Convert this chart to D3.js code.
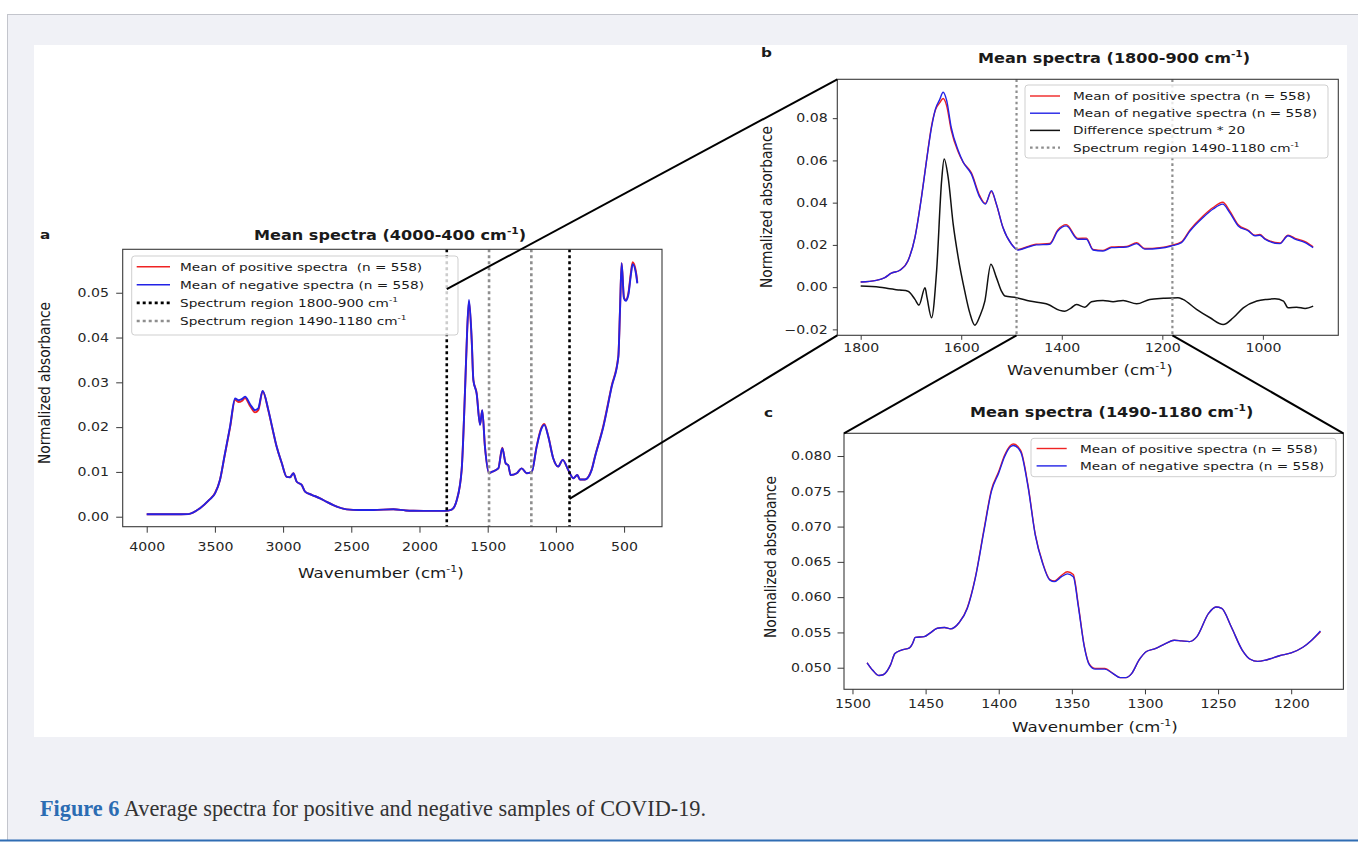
<!DOCTYPE html>
<html><head><meta charset="utf-8"><title>Figure 6</title>
<script src="https://cdn.jsdelivr.net/npm/d3@7/dist/d3.min.js"></script>
<style>html,body{margin:0;padding:0;background:#fff;overflow:hidden}svg{display:block}text{white-space:pre}</style>
</head><body><svg id="fig" width="1358" height="842"></svg>
<script>
// ================= DATA =================
// Panel a : 4000-400 cm-1
const waveA = [4000,3900,3800,3695,3609,3540,3499,3463,3430,3389,3352,3328,3300,3279,3240,3206,3182,3150,3108,3080,3047,3010,2974,2949,2925,2900,2864,2839,2790,2729,2680,2632,2534,2440,2339,2192,2100,2045,1900,1813,1764,1727,1691,1666,1650,1637,1617,1605,1581,1556,1540,1520,1490,1471,1422,1393,1368,1349,1332,1287,1251,1214,1177,1141,1108,1085,1056,1019,983,950,909,872,843,823,787,738,713,652,591,542,530,518,501,488,469,450,437,413,403];
const negA = [0.00054,0.00054,0.00054,0.00058,0.0019,0.0038,0.0052,0.0082,0.0135,0.0201,0.0264,0.0260,0.0263,0.0268,0.0250,0.0238,0.0242,0.0281,0.0238,0.0200,0.0156,0.0120,0.0089,0.0088,0.0097,0.0078,0.0071,0.0056,0.0049,0.0041,0.0033,0.0026,0.00165,0.0015,0.0015,0.00165,0.0014,0.00134,0.0013,0.0013,0.0016,0.0037,0.0104,0.0283,0.0420,0.0484,0.0394,0.0305,0.0275,0.0205,0.0238,0.0156,0.0097,0.0100,0.0108,0.0153,0.0119,0.0115,0.0093,0.0097,0.0108,0.0097,0.0100,0.0156,0.0195,0.0205,0.0179,0.0130,0.0112,0.0127,0.0104,0.0086,0.0093,0.0083,0.0083,0.0104,0.0134,0.0201,0.0290,0.0357,0.0460,0.0566,0.0488,0.0482,0.0495,0.0540,0.0564,0.0543,0.0521];
const posA = [0.00054,0.00054,0.00054,0.00058,0.0019,0.0038,0.0053,0.0082,0.0134,0.0199,0.0261,0.0256,0.0259,0.0265,0.0246,0.0233,0.0238,0.0280,0.0237,0.0199,0.0156,0.0120,0.0089,0.0088,0.0097,0.0078,0.0071,0.0056,0.0049,0.0041,0.0033,0.0026,0.00165,0.0015,0.0015,0.00165,0.0014,0.00134,0.0013,0.0013,0.0016,0.0037,0.0104,0.0283,0.0418,0.0480,0.0392,0.0305,0.0276,0.0206,0.0237,0.0156,0.0097,0.0100,0.0108,0.0154,0.0119,0.0115,0.0093,0.0097,0.0108,0.0097,0.0100,0.0157,0.0197,0.0207,0.0180,0.0130,0.0112,0.0127,0.0104,0.0086,0.0093,0.0083,0.0083,0.0105,0.0135,0.0203,0.0292,0.0359,0.0460,0.0566,0.0489,0.0484,0.0498,0.0545,0.0568,0.0547,0.0523];

// Panel b : 1800-900 cm-1
const waveB = [1800,1769,1752,1739,1722,1706,1692,1679,1669,1659,1651,1643,1636,1629,1620,1606,1596,1580,1563,1552,1540,1530,1517,1500,1487,1467,1451,1424,1408,1391,1368,1351,1338,1318,1301,1271,1251,1235,1205,1182,1162,1145,1119,1099,1080,1066,1049,1029,1016,1006,996,966,950,936,916,900];
const negB = [0.0024,0.0032,0.0045,0.0066,0.0080,0.0124,0.0235,0.0425,0.0599,0.0757,0.0845,0.0887,0.0923,0.0884,0.0757,0.0647,0.0591,0.0536,0.0425,0.0393,0.0457,0.0393,0.0282,0.0203,0.0176,0.0190,0.0200,0.0203,0.0266,0.0290,0.0227,0.0227,0.0176,0.0171,0.0187,0.0190,0.0206,0.0180,0.0184,0.0195,0.0211,0.0266,0.0330,0.0370,0.0393,0.0353,0.0290,0.0266,0.0243,0.0246,0.0227,0.0206,0.0243,0.0227,0.0211,0.0187];
const posB = [0.0024,0.0032,0.0045,0.0066,0.0080,0.0125,0.0237,0.0429,0.0601,0.0764,0.0841,0.0872,0.0893,0.0859,0.0744,0.0640,0.0591,0.0542,0.0432,0.0396,0.0452,0.0391,0.0282,0.0204,0.0178,0.0193,0.0203,0.0207,0.0271,0.0296,0.0231,0.0232,0.0179,0.0174,0.0190,0.0193,0.0210,0.0183,0.0187,0.0198,0.0214,0.0271,0.0337,0.0377,0.0402,0.0361,0.0295,0.0269,0.0246,0.0249,0.0230,0.0209,0.0246,0.0231,0.0216,0.0191];
const waveDiffB = [1800,1762,1742,1722,1706,1692,1684,1672,1668,1659,1649,1639,1634,1626,1616,1606,1593,1583,1573,1563,1553,1541,1530,1520,1513,1490,1464,1427,1404,1394,1381,1371,1354,1341,1318,1298,1278,1251,1225,1198,1169,1159,1132,1105,1079,1059,1039,1012,992,976,959,950,933,916,900];
const diffB = [0.0005,0.0000,-0.0008,-0.0014,-0.0019,-0.0058,-0.0085,-0.0003,-0.0050,-0.0145,0.0076,0.0504,0.0607,0.0520,0.0298,0.0140,-0.0019,-0.0122,-0.0180,-0.0137,-0.0066,0.0108,0.0045,-0.0019,-0.0042,-0.0050,-0.0066,-0.0082,-0.0110,-0.0114,-0.0098,-0.0082,-0.0095,-0.0069,-0.0063,-0.0069,-0.0063,-0.0079,-0.0058,-0.0053,-0.0050,-0.0058,-0.0105,-0.0145,-0.0177,-0.0145,-0.0098,-0.0066,-0.0058,-0.0055,-0.0066,-0.0098,-0.0095,-0.0101,-0.0090];

// Panel c : 1490-1180 cm-1
const waveC = [1490,1486,1482,1479,1474,1471,1466.5,1461,1459,1457,1451,1447,1442,1437,1433,1427,1421.5,1416,1410,1405,1400,1396,1392,1390,1385,1380,1375,1370,1365,1362,1357,1353,1349,1345.5,1341.5,1338,1334,1327.5,1322,1317,1313,1309,1304,1299,1293,1286,1280,1275,1269.5,1264.5,1256.5,1251.5,1247.5,1241,1233.5,1228,1223,1217,1208,1200,1192,1186,1180];
const negC = [0.0507,0.0496,0.0489,0.0490,0.0504,0.0520,0.0525,0.0528,0.0534,0.0543,0.0544,0.0549,0.0556,0.0557,0.0555,0.0564,0.0584,0.0627,0.0695,0.0750,0.0776,0.0799,0.0813,0.0815,0.0806,0.0757,0.0688,0.0648,0.0624,0.0622,0.0629,0.0633,0.0629,0.0586,0.0530,0.0504,0.0498,0.0498,0.0492,0.0486,0.0486,0.0492,0.0511,0.0523,0.0527,0.0534,0.0539,0.0538,0.0537,0.0544,0.0577,0.0586,0.0584,0.0558,0.0525,0.0512,0.0509,0.0511,0.0517,0.0521,0.0529,0.0539,0.0552];
const posC = [0.0507,0.0496,0.0489,0.0490,0.0504,0.0520,0.0525,0.0528,0.0534,0.0543,0.0544,0.0549,0.0556,0.0557,0.0555,0.0564,0.0585,0.0628,0.0697,0.0752,0.0778,0.0801,0.0815,0.0817,0.0808,0.0759,0.0689,0.0649,0.0625,0.0623,0.0631,0.0636,0.0632,0.0588,0.0531,0.0505,0.0499,0.0499,0.0492,0.0486,0.0486,0.0492,0.0511,0.0523,0.0527,0.0534,0.0539,0.0538,0.0537,0.0544,0.0577,0.0586,0.0584,0.0558,0.0525,0.0512,0.0509,0.0511,0.0517,0.0521,0.0529,0.0539,0.0551];

// Ticks
const ticksAx = [4000,3500,3000,2500,2000,1500,1000,500];
const ticksAy = [0.00,0.01,0.02,0.03,0.04,0.05];
const ticksBx = [1800,1600,1400,1200,1000];
const ticksBy = [-0.02,0.00,0.02,0.04,0.06,0.08];
const ticksCx = [1500,1450,1400,1350,1300,1250,1200];
const ticksCy = [0.050,0.055,0.060,0.065,0.070,0.075,0.080];

// Region markers (cm-1)
const regionOuter = [1800, 900];
const regionInner = [1490, 1180];
// Where the zoom connectors leave panel a (absorbance on the 1800 / 900 lines)
const connectA = [0.0508, 0.0040];

// Texts
const titleA = ["Mean spectra (4000-400 cm", ["-1"], ")"];
const titleB = ["Mean spectra (1800-900 cm", ["-1"], ")"];
const titleC = ["Mean spectra (1490-1180 cm", ["-1"], ")"];
const xLabel = ["Wavenumber (cm", ["-1"], ")"];
const yLabel = ["Normalized absorbance"];
const legendA = [["Mean of positive spectra  (n = 558)"], ["Mean of negative spectra (n = 558)"], ["Spectrum region 1800-900 cm", ["-1"]], ["Spectrum region 1490-1180 cm", ["-1"]]];
const legendB = [["Mean of positive spectra (n = 558)"], ["Mean of negative spectra (n = 558)"], ["Difference spectrum * 20"], ["Spectrum region 1490-1180 cm", ["-1"]]];
const legendC = [["Mean of positive spectra (n = 558)"], ["Mean of negative spectra (n = 558)"]];
const captionBold = "Figure 6";
const captionText = " Average spectra for positive and negative samples of COVID-19.";

// ================= STYLE / LAYOUT =================
const SX = 1.22;              // lettering in the source figure is stretched horizontally
const RED = "#ef2323", BLUE = "#2222e6", DARK = "#3a3a3a", GREY = "#8e8e8e";
const FONT = "DejaVu Sans";
const svg = d3.select("#fig");

// page chrome
svg.append("rect").attr("x",0).attr("y",0).attr("width",1358).attr("height",842).attr("fill","#fff");
svg.append("rect").attr("x",7.5).attr("y",14.5).attr("width",1360).attr("height",826).attr("fill","#f0f1f6").attr("stroke","#c3c5cc").attr("stroke-width",1);
svg.append("line").attr("x1",0).attr("x2",1358).attr("y1",840.5).attr("y2",840.5).attr("stroke","#2f6db3").attr("stroke-width",2);
svg.append("rect").attr("x",34).attr("y",45).attr("width",1313).attr("height",692).attr("fill","#fff");

function rich(parent, x, y, parts, o) {
  const size = o.size;
  let tr = `translate(${x},${y}) scale(${o.sx ?? SX},1)`;
  if (o.rotate) tr += " rotate(-90)";
  const t = parent.append("text").attr("transform", tr)
    .attr("text-anchor", o.anchor || "start").attr("font-family", o.family || FONT)
    .attr("font-size", size).attr("font-weight", o.weight || "normal").attr("fill", o.fill || "#1a1a1a");
  let shifted = false;
  const up = size * 0.42;
  parts.forEach(p => {
    if (Array.isArray(p)) {
      t.append("tspan").attr("dy", -up).attr("font-size", size * 0.66).text(p[0]);
      shifted = true;
    } else {
      const ts = t.append("tspan").text(p);
      if (shifted) { ts.attr("dy", up); shifted = false; }
    }
  });
  return t;
}

function panel(c) {
  const g = svg.append("g");
  const x = d3.scaleLinear().domain(c.xDomain).range([c.left, c.right]);
  const y = d3.scaleLinear().domain(c.yDomain).range([c.bottom, c.top]);
  return Object.assign({g, x, y}, c);
}

function axes(p, xt, yt, yfmt, o) {
  const gx = p.g.append("g").attr("transform", `translate(0,${p.bottom})`)
    .call(d3.axisBottom(p.x).tickValues(xt).tickFormat(d3.format("d")).tickSize(o.tx).tickPadding(o.px));
  const gy = p.g.append("g").attr("transform", `translate(${p.left},0)`)
    .call(d3.axisLeft(p.y).tickValues(yt).tickFormat(yfmt).tickSize(o.ty).tickPadding(o.py));
  [gx, gy].forEach(a => {
    a.select(".domain").remove();
    a.selectAll("line").attr("stroke", DARK).attr("stroke-width", 1);
    a.selectAll("text").attr("font-family", FONT).attr("font-size", 11.6).attr("fill", "#262626")
      .attr("transform", `scale(${SX},1)`);
  });
  gy.selectAll("text").attr("x", -(o.ty + o.py) / SX);
}

function curve(p, waves, vals, color, w) {
  const pts = d3.zip(waves, vals);
  p.g.append("path").attr("d", d3.line().x(d => p.x(d[0])).y(d => p.y(d[1])).curve(d3.curveMonotoneX)(pts))
    .attr("fill", "none").attr("stroke", color).attr("stroke-width", w).attr("stroke-linejoin", "round");
}

function vline(p, w, color, sw, dash) {
  p.g.append("line").attr("x1", p.x(w)).attr("x2", p.x(w)).attr("y1", p.top).attr("y2", p.bottom)
    .attr("stroke", color).attr("stroke-width", sw).attr("stroke-dasharray", dash);
}

function frame(p) {
  p.g.append("rect").attr("x", p.left).attr("y", p.top).attr("width", p.right - p.left).attr("height", p.bottom - p.top)
    .attr("fill", "none").attr("stroke", DARK).attr("stroke-width", 1.1);
}

function legend(p, L, labels, styles) {
  const g = p.g.append("g");
  g.append("rect").attr("x", L.x).attr("y", L.y).attr("width", L.w).attr("height", L.h).attr("rx", 3)
    .attr("fill", "#fff").attr("fill-opacity", 0.8).attr("stroke", "#cfcfcf").attr("stroke-width", 1);
  labels.forEach((lab, i) => {
    const yy = L.row0 + i * L.step, s = styles[i];
    g.append("line").attr("x1", L.h0).attr("x2", L.h1).attr("y1", yy).attr("y2", yy)
      .attr("stroke", s.color).attr("stroke-width", s.w).attr("stroke-dasharray", s.dash || null);
    rich(g, L.tx, yy + 4, lab, {size: 11.2});
  });
}

// ================= PANEL A =================
const A = panel({left:122.7, right:662, top:249.3, bottom:526.7, xDomain:[4176, 222], yDomain:[-0.00223, 0.0597]});
curve(A, waveA, posA, RED, 1.9);
curve(A, waveA, negA, BLUE, 1.9);
vline(A, regionOuter[0], "#000", 2.6, "3,3");
vline(A, regionInner[0], GREY, 2.6, "3,3");
vline(A, regionInner[1], GREY, 2.6, "3,3");
vline(A, regionOuter[1], "#000", 2.6, "3,3");
axes(A, ticksAx, ticksAy, d3.format(".2f"), {tx:6, px:10, ty:6.5, py:7.2});
legend(A, {x:131.7, y:256, w:326.3, h:79, row0:266.7, step:18.1, h0:136.7, h1:170, tx:180}, legendA,
  [{color:RED, w:1.6}, {color:BLUE, w:1.6}, {color:"#000", w:2.6, dash:"3,3"}, {color:GREY, w:2.6, dash:"3,3"}]);
frame(A);
rich(svg, 390, 240, titleA, {size:13.2, weight:"bold", anchor:"middle"});
rich(svg, 40, 239, ["a"], {size:12.5, weight:"bold"});
rich(svg, 381, 578, xLabel, {size:13.7, anchor:"middle"});
rich(svg, 50, 383, yLabel, {size:13.7, anchor:"middle", rotate:true});

// ================= PANEL B =================
const B = panel({left:837.3, right:1338.3, top:79.3, bottom:335.3, xDomain:[1846.5, 850], yDomain:[-0.0228, 0.0984]});
curve(B, waveB, posB, RED, 1.4);
curve(B, waveB, negB, BLUE, 1.4);
curve(B, waveDiffB, diffB, "#111", 1.5);
vline(B, regionInner[0], GREY, 2.2, "2.6,3");
vline(B, regionInner[1], GREY, 2.2, "2.6,3");
axes(B, ticksBx, ticksBy, d3.format(".2f"), {tx:4.5, px:4, ty:4.5, py:5});
legend(B, {x:1025, y:85, w:303, h:73, row0:96, step:17.2, h0:1030, h1:1060, tx:1073}, legendB,
  [{color:RED, w:1.4}, {color:BLUE, w:1.4}, {color:"#111", w:1.5}, {color:GREY, w:2.2, dash:"2.6,3"}]);
frame(B);
rich(svg, 978, 62.7, titleB, {size:13.2, weight:"bold"});
rich(svg, 761, 57, ["b"], {size:12.5, weight:"bold"});
rich(svg, 1090, 375, xLabel, {size:13.7, anchor:"middle"});
rich(svg, 772, 207, yLabel, {size:13.7, anchor:"middle", rotate:true});

// ================= PANEL C =================
const C = panel({left:844, right:1343.4, top:433.3, bottom:689.3, xDomain:[1505.8, 1164.3], yDomain:[0.04694, 0.08322]});
curve(C, waveC, posC, RED, 1.4);
curve(C, waveC, negC, BLUE, 1.4);
axes(C, ticksCx, ticksCy, d3.format(".3f"), {tx:5, px:5, ty:6.5, py:6});
legend(C, {x:1031, y:438.3, w:305, h:38.4, row0:448.5, step:17.4, h0:1036.6, h1:1066.7, tx:1080}, legendC,
  [{color:RED, w:1.4}, {color:BLUE, w:1.4}]);
frame(C);
rich(svg, 970, 417, titleC, {size:13.2, weight:"bold"});
rich(svg, 764, 417, ["c"], {size:12.5, weight:"bold"});
rich(svg, 1095, 732, xLabel, {size:13.7, anchor:"middle"});
rich(svg, 776, 557, yLabel, {size:13.7, anchor:"middle", rotate:true});

// ================= ZOOM CONNECTORS =================
const conn = svg.append("g").attr("stroke", "#000").attr("stroke-width", 2);
conn.append("line").attr("x1", A.x(regionOuter[0])).attr("y1", A.y(connectA[0])).attr("x2", B.left).attr("y2", B.top);
conn.append("line").attr("x1", A.x(regionOuter[1])).attr("y1", A.y(connectA[1])).attr("x2", B.left).attr("y2", B.bottom);
conn.append("line").attr("x1", B.x(regionInner[0])).attr("y1", B.bottom).attr("x2", C.left).attr("y2", C.top);
conn.append("line").attr("x1", B.x(regionInner[1])).attr("y1", B.bottom).attr("x2", C.right).attr("y2", C.top);

// ================= CAPTION =================
const cap = svg.append("text").attr("x", 40).attr("y", 816).attr("font-family", "Liberation Serif").attr("font-size", 22.3).attr("fill", "#333");
cap.append("tspan").attr("font-weight", "bold").attr("fill", "#2b6cb3").text(captionBold);
cap.append("tspan").text(captionText);
</script></body></html>
